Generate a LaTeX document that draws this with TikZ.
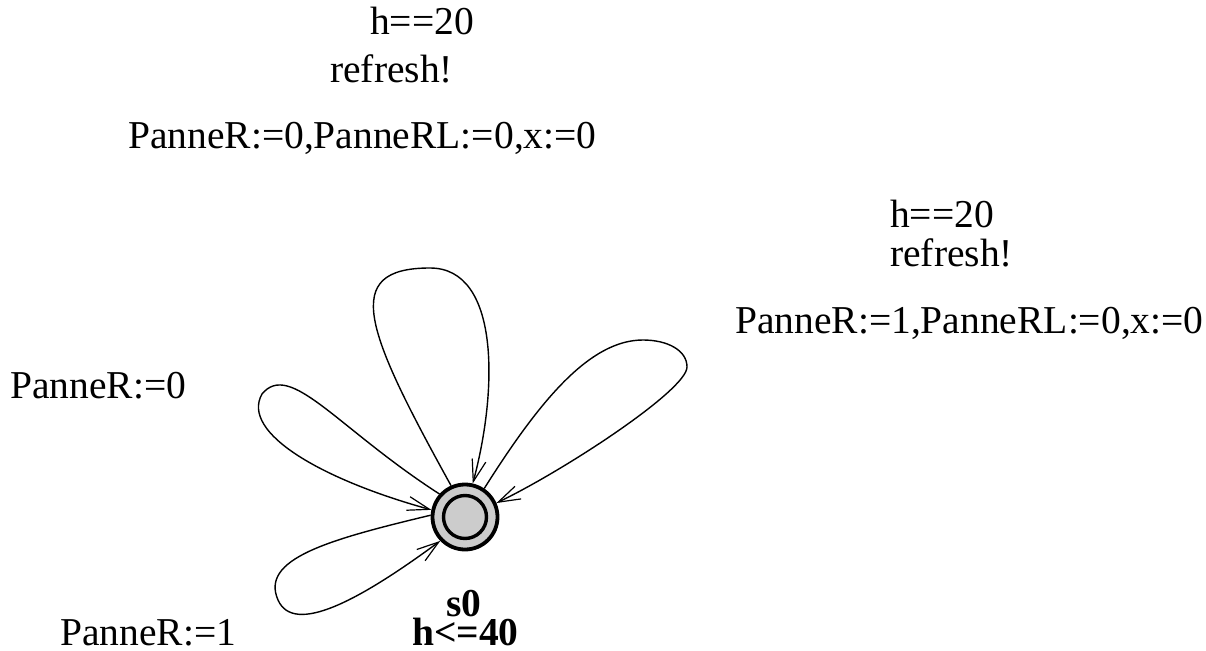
\documentclass[tikz,border=0pt]{standalone}
\usepackage{fontspec}
\setmainfont{Liberation Serif}
\usetikzlibrary{arrows.meta}
\definecolor{locGray}{RGB}{204,204,204}

\begin{document}
\begin{tikzpicture}[x=1pt,y=-1pt,
  loc/.style={circle,draw,line width=3.8pt,fill=locGray,minimum size=65pt,inner sep=0pt},
  locin/.style={circle,draw,line width=3.4pt,minimum size=43pt,inner sep=0pt},
  lbl/.style={anchor=base west,inner sep=0pt,font=\fontsize{39.5}{44}\selectfont},
  arr/.style={-{Straight Barb[length=22pt,width=14pt,line width=1.2pt]},line width=1.4pt}]
\useasboundingbox (0,0) rectangle (1206,650);

\node[loc] (s0) at (465,517) {};
\node[locin] (s0in) at (s0.center) {};
\node[lbl,font=\fontsize{39.5}{44}\selectfont\bfseries] (s0name) at (446,616) {s0};
\node[lbl,font=\fontsize{39.5}{44}\selectfont\bfseries] (s0inv) at (412,645) {h<=40};

% self loops
\draw[arr] (s0.114) .. controls (365,330) and (340,268) .. (430,268)
                    .. controls (500,268) and (498,390) .. (s0.77);
\draw[arr] (s0.56) .. controls (540,400) and (590,340) .. (643,340)
                   .. controls (667,340) and (687,350) .. (687,367)
                   .. controls (687,390) and (565,470) .. (s0.24);
\draw[arr] (s0.138) .. controls (337,428) and (290,360) .. (262,394)
                    .. controls (240,433) and (323,480) .. (s0.168);
\draw[arr] (s0.177) .. controls (327,540) and (260,559) .. (278,600)
                    .. controls (294,636) and (360,600) .. (s0.224);

% edge labels
\node[lbl] (gTop) at (370,35) {h==20};
\node[lbl] (syncTop) at (330,83) {refresh!};
\node[lbl] (updTop) at (128,148) {PanneR:=0,PanneRL:=0,x:=0};
\node[lbl] (gRight) at (890,227) {h==20};
\node[lbl] (syncRight) at (890,266) {refresh!};
\node[lbl] (updRight) at (735,333) {PanneR:=1,PanneRL:=0,x:=0};
\node[lbl] (updLeft) at (10,398) {PanneR:=0};
\node[lbl] (updLow) at (60,645) {PanneR:=1};
\end{tikzpicture}
\end{document}
